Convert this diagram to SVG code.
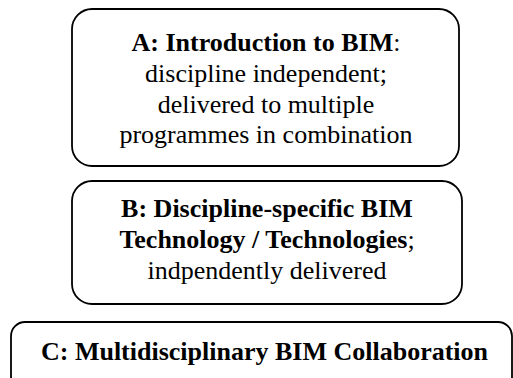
<svg xmlns="http://www.w3.org/2000/svg" width="513" height="378" viewBox="0 0 513 378">
<style>
.box{fill:#fff;stroke:#000;stroke-width:1.8}
text{font-family:"Liberation Serif","Times New Roman",serif;font-size:26px;fill:#000;text-anchor:middle}
.b{font-weight:bold}
</style>
<rect width="513" height="378" fill="#fff"/>
<g id="nodeA">
<rect class="box" x="72" y="9" width="387" height="157" rx="20"/>
<text x="266" y="51"><tspan class="b">A: Introduction to BIM</tspan>:</text>
<text x="266" y="82">discipline independent;</text>
<text x="266" y="113">delivered to multiple</text>
<text x="266" y="143">programmes in combination</text>
</g>
<g id="nodeB">
<rect class="box" x="72" y="181" width="390" height="123" rx="20"/>
<text x="267" y="217" class="b">B: Discipline-specific BIM</text>
<text x="267" y="248"><tspan class="b">Technology / Technologies</tspan>;</text>
<text x="267" y="279">indpendently delivered</text>
</g>
<g id="nodeC">
<rect class="box" x="11" y="322" width="501" height="90" rx="14"/>
<text x="264.5" y="360" class="b">C: Multidisciplinary BIM Collaboration</text>
</g>
<g id="connectors"/>
</svg>
